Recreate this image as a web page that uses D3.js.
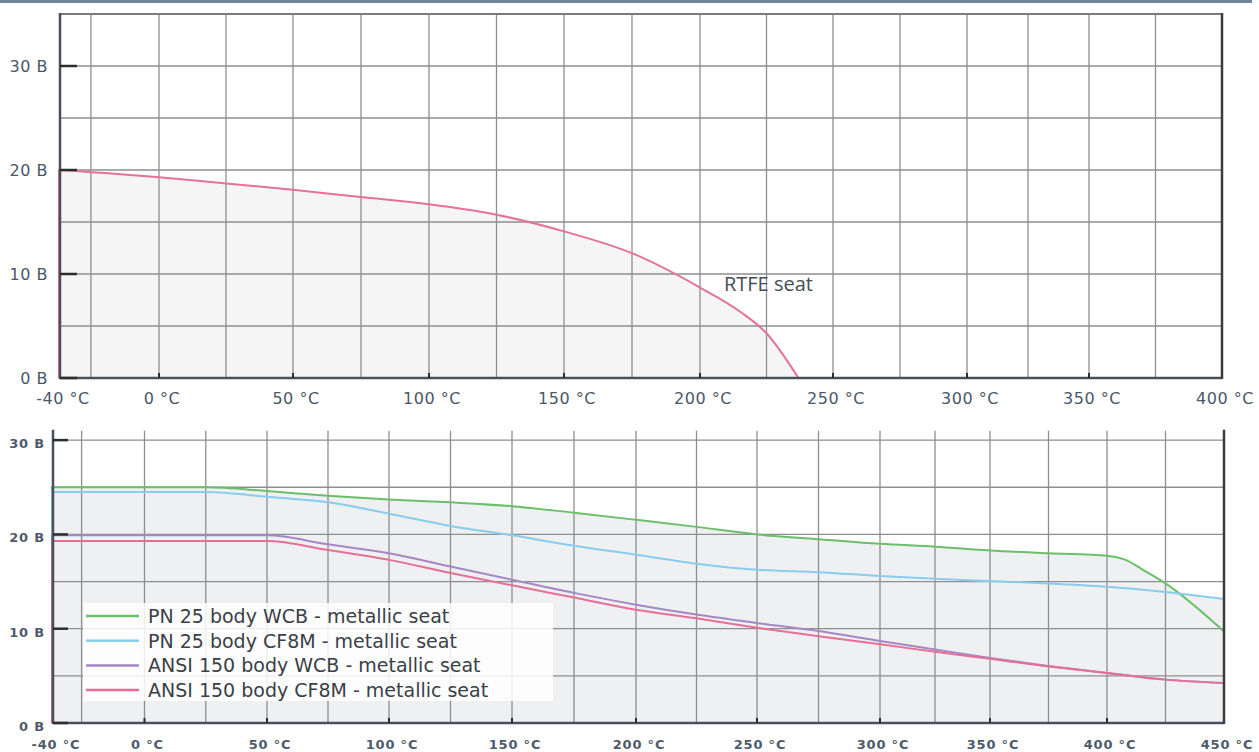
<!DOCTYPE html>
<meta charset="utf-8">
<style>
body { margin: 0; background: #fff; }
.grid line { stroke: #8e8e8e; stroke-width: 1.3px; }
.lbl-top { font-family: "DejaVu Sans", sans-serif; font-size: 16px; letter-spacing: 0.5px; fill: #4b5768; }
.lbl-bot { font-family: "DejaVu Sans", sans-serif; font-size: 13px; font-weight: bold; letter-spacing: 0.8px; fill: #4f5b6b; }
.legend text { font-family: "DejaVu Sans", sans-serif; font-size: 19px; fill: #3a3f48; }
</style>
<script src="https://d3js.org/d3.v7.min.js"></script>
<body>
<script>

var width = 1259,
    height = 752;

// ---- top chart data (RTFE seat) ----
var topTicksX = [-40, 0, 50, 100, 150, 200, 250, 300, 350, 400];
var topGridX = [-27.5, 0, 25, 50, 75, 100, 125, 150, 175, 200, 225, 250, 275, 300, 325, 350, 375];
var topTicksY = [0, 10, 20, 30];
var topGridY = [5, 10, 15, 20, 25, 30];
var rtfeTemp = [-40, 0, 25, 50, 75, 100, 125, 150, 175, 200, 215, 225, 237];
var rtfeBar  = [20, 19.3, 18.7, 18.1, 17.4, 16.7, 15.7, 14.1, 12.0, 8.7, 6.4, 4.3, 0];

// ---- bottom chart data (metallic seat) ----
var botTicksX = [-40, 0, 50, 100, 150, 200, 250, 300, 350, 400, 450];
var botGridX = [-27.5, 0, 25, 50, 75, 100, 125, 150, 175, 200, 225, 250, 275, 300, 325, 350, 375, 400, 425];
var botTicksY = [0, 10, 20, 30];
var botGridY = [5, 10, 15, 20, 25, 30];

var seriesNames = ["PN 25 body WCB - metallic seat", "PN 25 body CF8M - metallic seat",
                   "ANSI 150 body WCB - metallic seat", "ANSI 150 body CF8M - metallic seat"];
var seriesColors = ["#6cbf6a", "#88cdee", "#a587c6", "#e66f98"];

var pnWcbTemp = [-40, 25, 50, 75, 100, 125, 150, 175, 200, 225, 250, 275, 300, 325, 350, 375, 400, 408, 415, 425, 450];
var pnWcbBar  = [25, 25, 24.6, 24.1, 23.7, 23.4, 23.0, 22.3, 21.55, 20.8, 20.0, 19.5, 19.0, 18.7, 18.3, 18.0, 17.75, 17.3, 16.3, 14.8, 9.7];
var commonTemp = [-40, 25, 50, 75, 100, 125, 150, 175, 200, 225, 250, 275, 300, 325, 350, 375, 400, 425, 450];
var pnCf8mBar   = [24.5, 24.5, 24.0, 23.4, 22.2, 20.9, 19.9, 18.8, 17.85, 16.9, 16.25, 16.0, 15.6, 15.3, 15.05, 14.8, 14.45, 13.9, 13.15];
var ansiWcbBar  = [19.9, 19.9, 19.9, 18.95, 18.0, 16.6, 15.2, 13.8, 12.55, 11.5, 10.6, 9.75, 8.7, 7.8, 6.9, 6.05, 5.3, 4.6, 4.25];
var ansiCf8mBar = [19.3, 19.3, 19.3, 18.35, 17.3, 15.9, 14.6, 13.3, 12.0, 11.1, 10.1, 9.2, 8.35, 7.55, 6.8, 6.0, 5.3, 4.6, 4.25];

var svg = d3.select("body")
              .append("svg")
              .attr("width", width)
              .attr("height", height);

// header rule
svg.append("rect").attr("x", 0).attr("y", 0).attr("width", 1252).attr("height", 3).attr("fill", "#71859a");

function zip(t, v) {
  return t.map(function (d, i) { return { t: d, p: v[i] }; });
}

// draws one panel: grid, fills, lines, frame, ticks, labels
function panel(cfg) {
  var x = cfg.x, y = cfg.y;
  var g = svg.append("g");
  var x0 = x.range()[0], x1 = x.range()[x.range().length - 1];
  var yb = y(0), yt = y.range()[1];

  var area = d3.area()
      .x(function (d) { return x(d.t); })
      .y0(yb)
      .y1(function (d) { return y(d.p); })
      .curve(d3.curveMonotoneX);
  var line = d3.line()
      .x(function (d) { return x(d.t); })
      .y(function (d) { return y(d.p); })
      .curve(d3.curveMonotoneX);

  cfg.fills.forEach(function (s) {
    g.append("path").attr("d", area(s)).attr("fill", cfg.fillColor);
  });

  var grid = g.append("g").attr("class", "grid");
  grid.selectAll(".gx").data(cfg.gridX).enter().append("line")
      .attr("x1", function (d) { return x(d); }).attr("x2", function (d) { return x(d); })
      .attr("y1", yt).attr("y2", yb);
  grid.selectAll(".gy").data(cfg.gridY).enter().append("line")
      .attr("x1", x0).attr("x2", x1)
      .attr("y1", function (d) { return y(d); }).attr("y2", function (d) { return y(d); });

  if (cfg.topBorder) {
    g.append("line").attr("x1", x0).attr("x2", x1).attr("y1", yt).attr("y2", yt)
      .attr("stroke", "#7a7a7a").attr("stroke-width", 2);
  }

  cfg.series.forEach(function (s) {
    var d = line(s.data);
    // vertical rise from zero at the first temperature
    d = "M" + (x(s.data[0].t) - 1) + "," + yb + "L" + (x(s.data[0].t) - 1) + "," + y(s.data[0].p) + "L" + d.slice(1);
    g.append("path").attr("d", d)
      .attr("fill", "none").attr("stroke", s.color).attr("stroke-width", 2);
  });

  // frame
  g.append("line").attr("x1", x0).attr("x2", x0).attr("y1", yt - 1).attr("y2", yb + 1)
    .attr("stroke", "#47505c").attr("stroke-width", 2.5);
  g.append("line").attr("x1", x0).attr("x2", x1).attr("y1", yb).attr("y2", yb)
    .attr("stroke", "#47505c").attr("stroke-width", 2.5);
  g.append("line").attr("x1", x1).attr("x2", x1).attr("y1", yt - 1).attr("y2", yb + 1)
    .attr("stroke", "#3c3c3c").attr("stroke-width", 2.5);

  // ticks
  g.selectAll(".ty").data(cfg.ticksY).enter().append("line")
      .attr("x1", x0).attr("x2", x0 + cfg.tickLen)
      .attr("y1", function (d) { return y(d); }).attr("y2", function (d) { return y(d); })
      .attr("stroke", "#2e2e2e").attr("stroke-width", 2.5);
  g.selectAll(".tx").data(cfg.ticksX.slice(1, -1)).enter().append("line")
      .attr("x1", function (d) { return x(d); }).attr("x2", function (d) { return x(d); })
      .attr("y1", yb).attr("y2", yb - 5)
      .attr("stroke", "#2e2e2e").attr("stroke-width", 2);

  // labels
  g.selectAll(".ly").data(cfg.ticksY).enter().append("text")
      .attr("class", cfg.labelClass)
      .attr("x", cfg.yLabelX)
      .attr("y", function (d) { return y(d) + cfg.yLabelDy; })
      .attr("text-anchor", "end")
      .text(function (d) { return d + " B"; });
  g.selectAll(".lx").data(cfg.ticksX).enter().append("text")
      .attr("class", cfg.labelClass)
      .attr("x", function (d) { return x(d) + 3; })
      .attr("y", cfg.xLabelY)
      .attr("text-anchor", "middle")
      .text(function (d) { return d + " \u00b0C"; });

  return g;
}

// ---- top panel ----
var xTop = d3.scaleLinear()
    .domain(topTicksX)
    .range([60, 159, 293, 429, 564, 700, 833, 967, 1089, 1222]);
var yTop = d3.scaleLinear().domain([0, 35]).range([378, 14]);
var rtfe = zip(rtfeTemp, rtfeBar);

var gTop = panel({
  x: xTop, y: yTop,
  gridX: topGridX, gridY: topGridY, ticksX: topTicksX, ticksY: topTicksY,
  fills: [rtfe], fillColor: "#f5f5f5",
  series: [{ data: rtfe, color: "#e4729a" }],
  topBorder: true, tickLen: 17,
  labelClass: "lbl-top", yLabelX: 48, yLabelDy: 6, xLabelY: 404
});

gTop.append("text")
    .attr("x", xTop(209))
    .attr("y", yTop(9) + 7)
    .style("font-family", "Open Sans, sans-serif")
    .style("font-size", "20px")
    .style("fill", "#454d57")
    .text("RTFE seat");

// ---- bottom panel ----
var xBot = d3.scaleLinear()
    .domain(botTicksX)
    .range([53, 144.5, 267, 389, 512, 636, 757, 880, 990, 1107, 1224]);
var yBot = d3.scaleLinear().domain([0, 31]).range([723, 430.7]);

var botSeries = [
  zip(pnWcbTemp, pnWcbBar),
  zip(commonTemp, pnCf8mBar),
  zip(commonTemp, ansiWcbBar),
  zip(commonTemp, ansiCf8mBar)
];

panel({
  x: xBot, y: yBot,
  gridX: botGridX, gridY: botGridY, ticksX: botTicksX, ticksY: botTicksY,
  fills: [botSeries[0], botSeries[1]], fillColor: "#eff0f2",
  series: botSeries.map(function (s, i) { return { data: s, color: seriesColors[i] }; }),
  topBorder: false, tickLen: 15,
  labelClass: "lbl-bot", yLabelX: 45, yLabelDy: 8, xLabelY: 749
});

// legend
var legend = svg.append("g").attr("class", "legend");
legend.append("rect")
    .attr("x", 83).attr("y", 603).attr("width", 470).attr("height", 98)
    .attr("fill", "#fff").attr("fill-opacity", 0.85);

var rows = legend.selectAll(".row")
    .data(seriesNames)
    .enter()
      .append("g")
        .attr("transform", function (d, i) { return "translate(0," + (616 + i * 24.7) + ")"; });

rows.append("line")
    .attr("x1", 86).attr("x2", 139).attr("y1", 0).attr("y2", 0)
    .attr("stroke", function (d, i) { return seriesColors[i]; })
    .attr("stroke-width", 2.5);

rows.append("text")
    .attr("x", 148)
    .attr("y", 7)
    .text(function (d) { return d; });

</script>
</body>
